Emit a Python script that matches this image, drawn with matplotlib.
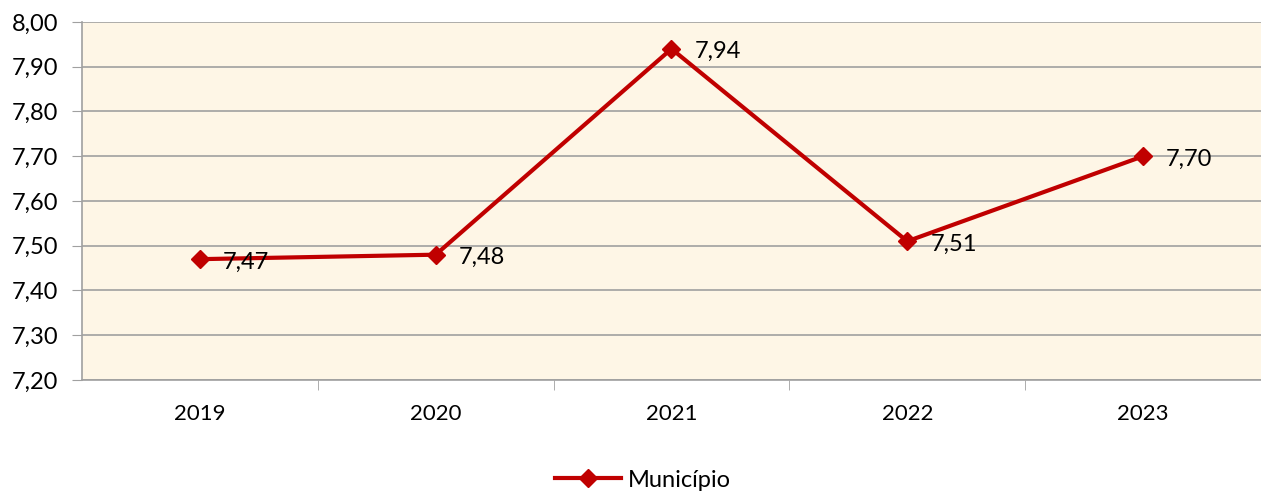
import matplotlib.pyplot as plt
from matplotlib.ticker import FixedLocator, FuncFormatter

anos = ['2019', '2020', '2021', '2022', '2023']
municipio = [7.47, 7.48, 7.94, 7.51, 7.70]
yticks = [7.20, 7.30, 7.40, 7.50, 7.60, 7.70, 7.80, 7.90, 8.00]

plt.rcParams['font.family'] = ['Lato', 'DejaVu Sans']

fig = plt.figure(figsize=(12.61, 4.94), dpi=100)
ax = fig.add_axes([0.065, 0.2308, 0.935, 0.7247])
ax.set_facecolor('#FEF6E6')

x = list(range(len(anos)))
ax.plot(x, municipio, color='#C00000', linewidth=3, marker='D', markersize=9,
        label='Município', zorder=3)

# rótulos de dados
for xi, v in zip(x, municipio):
    ax.annotate(f'{v:.2f}'.replace('.', ','), (xi, v), xytext=(23, -3),
                textcoords='offset pixels',
                ha='left', va='center', fontsize=17, color='black', zorder=4)

ax.set_xlim(-0.5, len(anos) - 0.5)
ax.set_ylim(7.20, 8.00)
ax.set_yticks(yticks)
ax.yaxis.set_major_formatter(FuncFormatter(lambda v, p: f'{v:.2f}'.replace('.', ',')))
ax.grid(axis='y', color='#A0A0A0', linewidth=1.2)
ax.set_axisbelow(True)

ax.set_xticks(x)
ax.set_xticklabels(anos)
ax.xaxis.set_minor_locator(FixedLocator([i + 0.5 for i in range(len(anos) - 1)]))
ax.tick_params(axis='x', which='major', length=0, pad=17, labelsize=16)
ax.tick_params(axis='x', which='minor', length=7, color='#A0A0A0')
ax.tick_params(axis='y', length=7, color='#A0A0A0', labelsize=17, pad=10)

for s in ['top', 'right']:
    ax.spines[s].set_visible(False)
ax.spines['left'].set_color('#A0A0A0')
ax.spines['bottom'].set_color('#A0A0A0')
ax.spines['left'].set_linewidth(1.2)
ax.spines['bottom'].set_linewidth(1.2)

fig.legend(loc='center', bbox_to_anchor=(0.51, 0.028), frameon=False, fontsize=17,
           handlelength=2.8, handletextpad=0.3)

fig.savefig('out.png', dpi=100)
